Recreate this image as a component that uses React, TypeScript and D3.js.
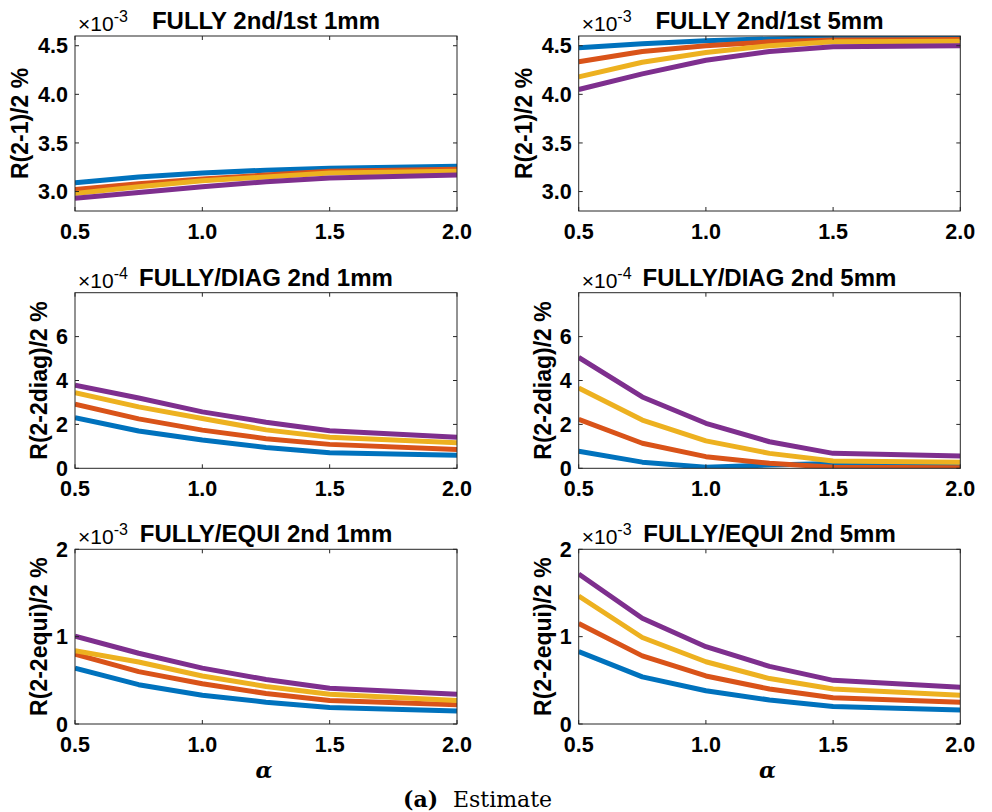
import React from "react";
import * as d3 from "d3";

// ---- data ----
const alpha = [0.5, 0.75, 1.0, 1.25, 1.5, 2.0];
const xTicks = [0.5, 1.0, 1.5, 2.0];
const seriesColors = ["#0072BD", "#D95319", "#EDB120", "#7E2F8E"];

// FULLY 2nd/1st 1mm (x1e-3)
const p1Blue = [3.09, 3.15, 3.19, 3.22, 3.24, 3.26];
const p1Orange = [3.02, 3.08, 3.13, 3.17, 3.21, 3.23];
const p1Yellow = [2.98, 3.05, 3.11, 3.15, 3.19, 3.21];
const p1Purple = [2.93, 2.99, 3.05, 3.1, 3.14, 3.17];

// FULLY 2nd/1st 5mm (x1e-3)
const p2Blue = [4.48, 4.52, 4.55, 4.57, 4.58, 4.59];
const p2Orange = [4.335, 4.44, 4.5, 4.54, 4.56, 4.565];
const p2Yellow = [4.18, 4.33, 4.43, 4.5, 4.54, 4.545];
const p2Purple = [4.05, 4.21, 4.35, 4.44, 4.49, 4.5];

// FULLY/DIAG 2nd 1mm (x1e-4)
const p3Blue = [2.3, 1.7, 1.29, 0.95, 0.71, 0.6];
const p3Orange = [2.92, 2.25, 1.74, 1.35, 1.09, 0.86];
const p3Yellow = [3.45, 2.8, 2.27, 1.75, 1.41, 1.16];
const p3Purple = [3.79, 3.2, 2.57, 2.1, 1.71, 1.41];

// FULLY/DIAG 2nd 5mm (x1e-4)
const p4Blue = [0.78, 0.28, 0.05, 0.15, 0.22, 0.12];
const p4Orange = [2.23, 1.14, 0.53, 0.23, 0.05, 0.03];
const p4Yellow = [3.66, 2.2, 1.25, 0.68, 0.33, 0.28];
const p4Purple = [5.05, 3.25, 2.05, 1.21, 0.68, 0.56];

// FULLY/EQUI 2nd 1mm (x1e-3)
const p5Blue = [0.64, 0.45, 0.33, 0.25, 0.19, 0.15];
const p5Orange = [0.8, 0.6, 0.46, 0.35, 0.27, 0.22];
const p5Yellow = [0.84, 0.71, 0.55, 0.43, 0.34, 0.27];
const p5Purple = [1.007, 0.81, 0.64, 0.51, 0.41, 0.34];

// FULLY/EQUI 2nd 5mm (x1e-3)
const p6Blue = [0.83, 0.54, 0.38, 0.275, 0.2, 0.16];
const p6Orange = [1.15, 0.78, 0.55, 0.4, 0.3, 0.25];
const p6Yellow = [1.465, 0.99, 0.713, 0.52, 0.4, 0.33];
const p6Purple = [1.717, 1.21, 0.885, 0.66, 0.5, 0.42];

const titles = [
  "FULLY 2nd/1st 1mm",
  "FULLY 2nd/1st 5mm",
  "FULLY/DIAG 2nd 1mm",
  "FULLY/DIAG 2nd 5mm",
  "FULLY/EQUI 2nd 1mm",
  "FULLY/EQUI 2nd 5mm",
];
const exponents = ["-3", "-3", "-4", "-4", "-3", "-3"];
const yLabels = [
  "R(2-1)/2 %",
  "R(2-1)/2 %",
  "R(2-2diag)/2 %",
  "R(2-2diag)/2 %",
  "R(2-2equi)/2 %",
  "R(2-2equi)/2 %",
];
const yDomains: [number, number][] = [
  [2.8, 4.6],
  [2.8, 4.6],
  [0, 8],
  [0, 8],
  [0, 2],
  [0, 2],
];
const yTickValues = [
  [3.0, 3.5, 4.0, 4.5],
  [3.0, 3.5, 4.0, 4.5],
  [0, 2, 4, 6],
  [0, 2, 4, 6],
  [0, 1, 2],
  [0, 1, 2],
];
const yTickFormats = [".1f", ".1f", "d", "d", "d", "d"];
const panelSeries = [
  [p1Blue, p1Orange, p1Yellow, p1Purple],
  [p2Blue, p2Orange, p2Yellow, p2Purple],
  [p3Blue, p3Orange, p3Yellow, p3Purple],
  [p4Blue, p4Orange, p4Yellow, p4Purple],
  [p5Blue, p5Orange, p5Yellow, p5Purple],
  [p6Blue, p6Orange, p6Yellow, p6Purple],
];

// ---- layout ----
const W = 992;
const H = 812;
const colX: [number, number][] = [
  [75, 457],
  [578.7, 960.3],
];
const rowY: [number, number][] = [
  [36, 211],
  [292.7, 468.3],
  [549.3, 724],
];
const yLabelOffsets = [47, 47, 28, 28, 28, 28];
const FONT = "'Liberation Sans', Arial, Helvetica, sans-serif";
const AXIS = "#262626";
const TICK = 4;

function Panel({ i }: { i: number }) {
  const [x0, x1] = colX[i % 2];
  const [top, bottom] = rowY[Math.floor(i / 2)];
  const x = d3.scaleLinear().domain([0.5, 2.0]).range([x0, x1]);
  const y = d3.scaleLinear().domain(yDomains[i]).range([bottom, top]);
  const fmtX = d3.format(".1f");
  const fmtY = d3.format(yTickFormats[i]);
  const line = d3
    .line<number>()
    .x((_, k) => x(alpha[k]))
    .y((v) => y(v));
  const clipId = `clip${i}`;
  const cx = (x0 + x1) / 2;
  const cy = (top + bottom) / 2;
  return (
    <g>
      <defs>
        <clipPath id={clipId}>
          <rect x={x0} y={top} width={x1 - x0} height={bottom - top} />
        </clipPath>
      </defs>
      <g clipPath={`url(#${clipId})`}>
        {panelSeries[i].map((s, k) => (
          <path
            key={k}
            d={line(s) || ""}
            fill="none"
            stroke={seriesColors[k]}
            strokeWidth={5}
            strokeLinejoin="round"
          />
        ))}
      </g>
      <rect
        x={x0}
        y={top}
        width={x1 - x0}
        height={bottom - top}
        fill="none"
        stroke={AXIS}
        strokeWidth={1}
      />
      {xTicks.map((t) => (
        <g key={`xt${t}`}>
          <line x1={x(t)} x2={x(t)} y1={bottom} y2={bottom - TICK} stroke={AXIS} />
          <line x1={x(t)} x2={x(t)} y1={top} y2={top + TICK} stroke={AXIS} />
          <text
            x={x(t)}
            y={bottom + 28}
            textAnchor="middle"
            fontFamily={FONT}
            fontWeight="bold"
            fontSize={21.5}
            fill="#000"
          >
            {fmtX(t)}
          </text>
        </g>
      ))}
      {yTickValues[i].map((t) => (
        <g key={`yt${t}`}>
          <line x1={x0} x2={x0 + TICK} y1={y(t)} y2={y(t)} stroke={AXIS} />
          <line x1={x1} x2={x1 - TICK} y1={y(t)} y2={y(t)} stroke={AXIS} />
          <text
            x={x0 - 7}
            y={y(t)}
            dy="0.36em"
            textAnchor="end"
            fontFamily={FONT}
            fontWeight="bold"
            fontSize={21.5}
            fill="#000"
          >
            {fmtY(t)}
          </text>
        </g>
      ))}
      <text
        transform={`translate(${x0 - yLabelOffsets[i]},${cy}) rotate(-90)`}
        textAnchor="middle"
        fontFamily={FONT}
        fontWeight="bold"
        fontSize={23}
        fill="#000"
      >
        {yLabels[i]}
      </text>
      <text
        x={cx}
        y={top - 7}
        textAnchor="middle"
        fontFamily={FONT}
        fontWeight="bold"
        fontSize={24}
        fill="#000"
      >
        {titles[i]}
      </text>
      <text x={x0 + 3} y={top - 5} fontFamily={FONT} fontSize={21} fill="#000">
        ×10
        <tspan dy={-9} fontSize={16}>
          {exponents[i]}
        </tspan>
      </text>
      {i >= 4 && (
        <text
          x={cx - 2}
          y={778}
          textAnchor="middle"
          fontFamily="'DejaVu Serif', 'Liberation Serif', serif"
          fontWeight="bold"
          fontStyle="italic"
          fontSize={22}
          fill="#000"
        >
          α
        </text>
      )}
    </g>
  );
}

export default function App() {
  return (
    <svg
      width={W}
      height={H}
      viewBox={`0 0 ${W} ${H}`}
      style={{ position: "absolute", left: 0, top: 0, background: "#fff" }}
    >
      <rect x={0} y={0} width={W} height={H} fill="#fff" />
      {titles.map((_, i) => (
        <Panel key={i} i={i} />
      ))}
      <text
        x={403}
        y={807}
        fontFamily="'DejaVu Serif', 'Liberation Serif', serif"
        fontWeight="bold"
        fontSize={22}
        fill="#000"
      >
        (a)
      </text>
      <text
        x={453}
        y={807}
        fontFamily="'DejaVu Serif', 'Liberation Serif', serif"
        fontSize={22}
        fill="#000"
      >
        Estimate
      </text>
    </svg>
  );
}
